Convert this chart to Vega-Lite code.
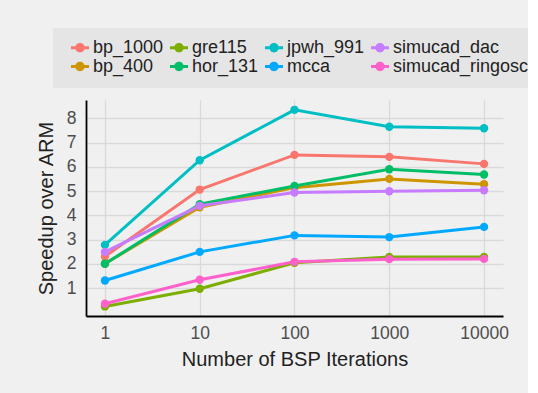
{
  "$schema": "https://vega.github.io/schema/vega-lite/v6.json",
  "autosize": {"type": "none"},
  "width": 417,
  "height": 216,
  "padding": {"left": 86, "top": 100, "right": 25, "bottom": 77},
  "background": "#F0F0F0",
  "config": {
    "view": {"fill": "#F0F0F0", "stroke": null},
    "font": "Liberation Sans"
  },
  "data": {
    "values": [
      {"series": "bp_1000", "iter": 1, "speedup": 2.30},
      {"series": "bp_1000", "iter": 10, "speedup": 5.06},
      {"series": "bp_1000", "iter": 100, "speedup": 6.49},
      {"series": "bp_1000", "iter": 1000, "speedup": 6.41},
      {"series": "bp_1000", "iter": 10000, "speedup": 6.12},
      {"series": "bp_400", "iter": 1, "speedup": 2.00},
      {"series": "bp_400", "iter": 10, "speedup": 4.33},
      {"series": "bp_400", "iter": 100, "speedup": 5.14},
      {"series": "bp_400", "iter": 1000, "speedup": 5.50},
      {"series": "bp_400", "iter": 10000, "speedup": 5.28},
      {"series": "gre115", "iter": 1, "speedup": 0.24},
      {"series": "gre115", "iter": 10, "speedup": 0.97},
      {"series": "gre115", "iter": 100, "speedup": 2.04},
      {"series": "gre115", "iter": 1000, "speedup": 2.28},
      {"series": "gre115", "iter": 10000, "speedup": 2.28},
      {"series": "hor_131", "iter": 1, "speedup": 2.00},
      {"series": "hor_131", "iter": 10, "speedup": 4.46},
      {"series": "hor_131", "iter": 100, "speedup": 5.21},
      {"series": "hor_131", "iter": 1000, "speedup": 5.90},
      {"series": "hor_131", "iter": 10000, "speedup": 5.68},
      {"series": "jpwh_991", "iter": 1, "speedup": 2.78},
      {"series": "jpwh_991", "iter": 10, "speedup": 6.27},
      {"series": "jpwh_991", "iter": 100, "speedup": 8.35},
      {"series": "jpwh_991", "iter": 1000, "speedup": 7.65},
      {"series": "jpwh_991", "iter": 10000, "speedup": 7.59},
      {"series": "mcca", "iter": 1, "speedup": 1.31},
      {"series": "mcca", "iter": 10, "speedup": 2.49},
      {"series": "mcca", "iter": 100, "speedup": 3.17},
      {"series": "mcca", "iter": 1000, "speedup": 3.10},
      {"series": "mcca", "iter": 10000, "speedup": 3.52},
      {"series": "simucad_dac", "iter": 1, "speedup": 2.49},
      {"series": "simucad_dac", "iter": 10, "speedup": 4.39},
      {"series": "simucad_dac", "iter": 100, "speedup": 4.94},
      {"series": "simucad_dac", "iter": 1000, "speedup": 4.99},
      {"series": "simucad_dac", "iter": 10000, "speedup": 5.03},
      {"series": "simucad_ringosc", "iter": 1, "speedup": 0.35},
      {"series": "simucad_ringosc", "iter": 10, "speedup": 1.34},
      {"series": "simucad_ringosc", "iter": 100, "speedup": 2.08},
      {"series": "simucad_ringosc", "iter": 1000, "speedup": 2.19},
      {"series": "simucad_ringosc", "iter": 10000, "speedup": 2.20}
    ]
  },
  "encoding": {
    "x": {
      "field": "iter", "type": "quantitative",
      "scale": {"type": "log", "domain": [0.631, 15849], "nice": false},
      "axis": {
        "values": [1, 10, 100, 1000, 10000], "format": "d",
        "title": "Number of BSP Iterations",
        "titleFontSize": 20, "titleFontWeight": "normal", "titleColor": "#222222", "titlePadding": 8,
        "labelFontSize": 17.5, "labelColor": "#4D4D4D", "labelPadding": 8,
        "ticks": false, "domainColor": "#000000", "domainWidth": 1.8,
        "gridColor": "#D9D9D9", "gridWidth": 1.3
      }
    },
    "y": {
      "field": "speedup", "type": "quantitative",
      "scale": {"domain": [-0.155, 8.755], "nice": false, "zero": false},
      "axis": {
        "values": [1, 2, 3, 4, 5, 6, 7, 8],
        "title": "Speedup over ARM",
        "titleFontSize": 20, "titleFontWeight": "normal", "titleColor": "#222222", "titlePadding": 10,
        "labelFontSize": 17.5, "labelColor": "#4D4D4D", "labelPadding": 10,
        "ticks": false, "domainColor": "#000000", "domainWidth": 1.8,
        "gridColor": "#D9D9D9", "gridWidth": 1.3
      }
    },
    "color": {
      "field": "series", "type": "nominal",
      "scale": {
        "domain": ["bp_1000", "gre115", "jpwh_991", "simucad_dac", "bp_400", "hor_131", "mcca", "simucad_ringosc"],
        "range": ["#F8766D", "#7CAE00", "#00BFC4", "#C77CFF", "#CD9600", "#00BE67", "#00A9FF", "#FF61CC"]
      },
      "legend": {
        "title": null,
        "orient": "none", "legendX": -33, "legendY": -72,
        "columns": 4, "direction": "horizontal",
        "fillColor": "#E5E5E5", "padding": 12,
        "labelFontSize": 18, "labelColor": "#222222", "labelOffset": 4,
        "columnPadding": 0, "rowPadding": 0, "clipHeight": 15,
        "symbolSize": 324, "symbolOffset": 6,
        "symbolType": "M-1,-0.17H1V0.17H-1Z M-0.52,0A0.52,0.52 0 1,1 0.52,0A0.52,0.52 0 1,1 -0.52,0Z",
        "symbolStrokeWidth": 0,
        "encode": {
          "symbols": {
            "update": {
              "fill": {"scale": "color", "field": "value"},
              "strokeWidth": {"value": 0},
              "opacity": {"value": 1}
            }
          }
        }
      }
    }
  },
  "layer": [
    {"mark": {"type": "line", "strokeWidth": 3}},
    {"mark": {"type": "point", "filled": true, "size": 70, "opacity": 1}}
  ]
}
